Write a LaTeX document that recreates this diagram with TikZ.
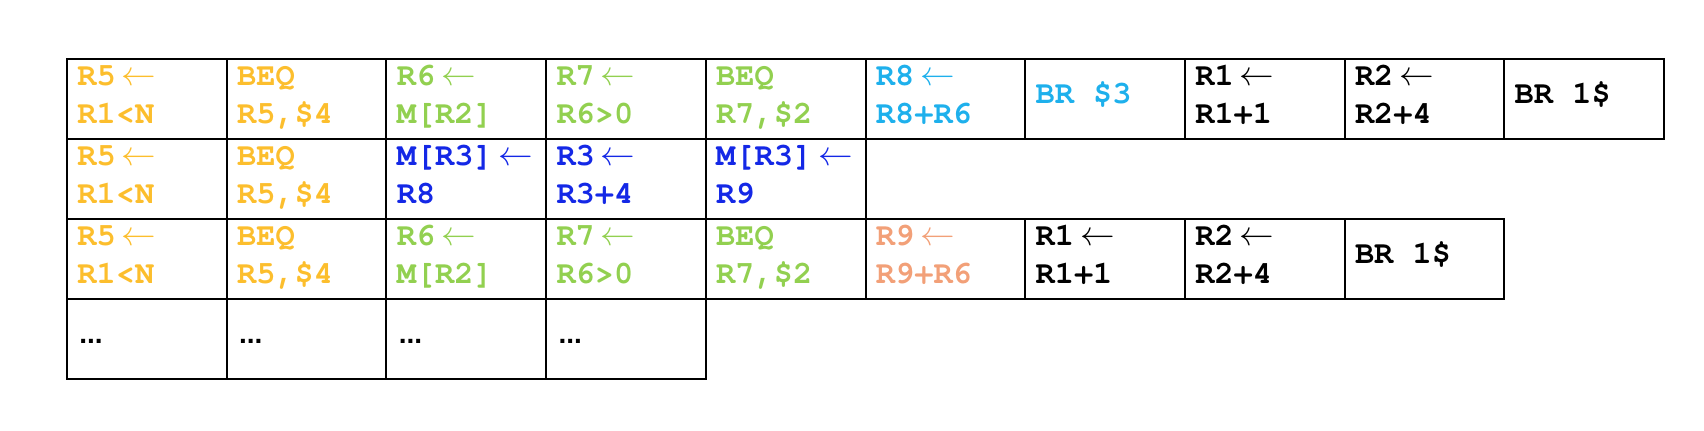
\documentclass[tikz,border=0pt]{standalone}
\usepackage{fontspec}
\newfontfamily\monof{TeX Gyre Cursor}
\newfontfamily\sansf{Liberation Sans}
\definecolor{cy}{RGB}{252,190,45}
\definecolor{cg}{RGB}{146,208,80}
\definecolor{cb}{RGB}{20,40,230}
\definecolor{cc}{RGB}{30,176,236}
\definecolor{cs}{RGB}{242,160,120}
\newcommand\myarr{\hspace{3pt}$\leftarrow$}
\begin{document}
\begin{tikzpicture}[x=0.5pt,y=-0.5pt,
  cell/.style={draw=black, line width=1pt, minimum width=79.85pt, minimum height=40pt, inner sep=0pt, anchor=north west},
  txt/.style={anchor=base west, inner sep=0pt, align=left, font=\monof\bfseries\fontsize{16pt}{19pt}\selectfont},
  dots/.style={anchor=base west, inner sep=0pt, font=\sansf\bfseries\fontsize{14pt}{16pt}\selectfont}]
\path[use as bounding box] (0,0) rectangle (1704,430);
% row 1
\node[cell] (r1c1) at (66,58) {};
\node[cell] (r1c2) at (225.7,58) {};
\node[cell] (r1c3) at (385.4,58) {};
\node[cell] (r1c4) at (545.1,58) {};
\node[cell] (r1c5) at (704.8,58) {};
\node[cell] (r1c6) at (864.5,58) {};
\node[cell] (r1c7) at (1024.2,58) {};
\node[cell] (r1c8) at (1183.9,58) {};
\node[cell] (r1c9) at (1343.6,58) {};
\node[cell] (r1c10) at (1503.3,58) {};
\node[txt,text=cy] (t1c1) at ([shift={(11,65)}]r1c1.north west) {R5\myarr\\R1<N};
\node[txt,text=cy] (t1c2) at ([shift={(11,65)}]r1c2.north west) {BEQ\\R5,\$4};
\node[txt,text=cg] (t1c3) at ([shift={(11,65)}]r1c3.north west) {R6\myarr\\M[R2]};
\node[txt,text=cg] (t1c4) at ([shift={(11,65)}]r1c4.north west) {R7\myarr\\R6>0};
\node[txt,text=cg] (t1c5) at ([shift={(11,65)}]r1c5.north west) {BEQ\\R7,\$2};
\node[txt,text=cc] (t1c6) at ([shift={(11,65)}]r1c6.north west) {R8\myarr\\R8+R6};
\node[txt,text=cc] (t1c7) at ([shift={(11,45)}]r1c7.north west) {BR \$3};
\node[txt,text=black] (t1c8) at ([shift={(11,65)}]r1c8.north west) {R1\myarr\\R1+1};
\node[txt,text=black] (t1c9) at ([shift={(11,65)}]r1c9.north west) {R2\myarr\\R2+4};
\node[txt,text=black] (t1c10) at ([shift={(11,45)}]r1c10.north west) {BR 1\$};
% row 2
\node[cell] (r2c1) at (66,138) {};
\node[cell] (r2c2) at (225.7,138) {};
\node[cell] (r2c3) at (385.4,138) {};
\node[cell] (r2c4) at (545.1,138) {};
\node[cell] (r2c5) at (704.8,138) {};
\node[txt,text=cy] (t2c1) at ([shift={(11,65)}]r2c1.north west) {R5\myarr\\R1<N};
\node[txt,text=cy] (t2c2) at ([shift={(11,65)}]r2c2.north west) {BEQ\\R5,\$4};
\node[txt,text=cb] (t2c3) at ([shift={(11,65)}]r2c3.north west) {M[R3]\myarr\\R8};
\node[txt,text=cb] (t2c4) at ([shift={(11,65)}]r2c4.north west) {R3\myarr\\R3+4};
\node[txt,text=cb] (t2c5) at ([shift={(11,65)}]r2c5.north west) {M[R3]\myarr\\R9};
% row 3
\node[cell] (r3c1) at (66,218) {};
\node[cell] (r3c2) at (225.7,218) {};
\node[cell] (r3c3) at (385.4,218) {};
\node[cell] (r3c4) at (545.1,218) {};
\node[cell] (r3c5) at (704.8,218) {};
\node[cell] (r3c6) at (864.5,218) {};
\node[cell] (r3c7) at (1024.2,218) {};
\node[cell] (r3c8) at (1183.9,218) {};
\node[cell] (r3c9) at (1343.6,218) {};
\node[txt,text=cy] (t3c1) at ([shift={(11,65)}]r3c1.north west) {R5\myarr\\R1<N};
\node[txt,text=cy] (t3c2) at ([shift={(11,65)}]r3c2.north west) {BEQ\\R5,\$4};
\node[txt,text=cg] (t3c3) at ([shift={(11,65)}]r3c3.north west) {R6\myarr\\M[R2]};
\node[txt,text=cg] (t3c4) at ([shift={(11,65)}]r3c4.north west) {R7\myarr\\R6>0};
\node[txt,text=cg] (t3c5) at ([shift={(11,65)}]r3c5.north west) {BEQ\\R7,\$2};
\node[txt,text=cs] (t3c6) at ([shift={(11,65)}]r3c6.north west) {R9\myarr\\R9+R6};
\node[txt,text=black] (t3c7) at ([shift={(11,65)}]r3c7.north west) {R1\myarr\\R1+1};
\node[txt,text=black] (t3c8) at ([shift={(11,65)}]r3c8.north west) {R2\myarr\\R2+4};
\node[txt,text=black] (t3c9) at ([shift={(11,45)}]r3c9.north west) {BR 1\$};
% row 4
\node[cell] (r4c1) at (66,298) {};
\node[cell] (r4c2) at (225.7,298) {};
\node[cell] (r4c3) at (385.4,298) {};
\node[cell] (r4c4) at (545.1,298) {};
\node[dots] (t4c1) at ([shift={(13,45)}]r4c1.north west) {...};
\node[dots] (t4c2) at ([shift={(13,45)}]r4c2.north west) {...};
\node[dots] (t4c3) at ([shift={(13,45)}]r4c3.north west) {...};
\node[dots] (t4c4) at ([shift={(13,45)}]r4c4.north west) {...};
\end{tikzpicture}
\end{document}
